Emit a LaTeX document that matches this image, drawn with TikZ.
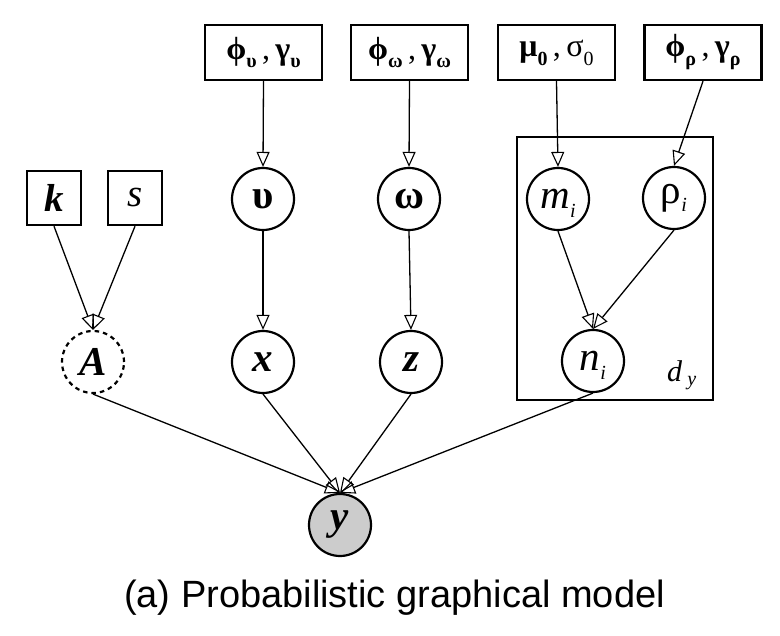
\documentclass[tikz,border=0pt]{standalone}
\usepackage{fontspec}
\setmainfont{Liberation Serif}
\newfontfamily\capfont{Liberation Sans}
\usetikzlibrary{arrows.meta}
\newcommand\mysub[1]{\raisebox{-0.28em}{\fontsize{20}{20}\selectfont #1}}
\newcommand\mysubb[1]{\smash{\raisebox{-8.5pt}{\fontsize{20}{20}\selectfont #1}}}
\begin{document}
\begin{tikzpicture}[x=1pt,y=-1pt,
  var/.style={circle, draw, line width=2.2pt, minimum size=62pt, inner sep=0pt,
    font=\fontsize{41}{41}\selectfont},
  topbox/.style={rectangle, draw, line width=2.4pt, minimum width=117pt, minimum height=55pt,
    inner sep=0pt, font=\fontsize{32}{32}\selectfont},
  smallbox/.style={rectangle, draw, line width=2.4pt, minimum width=54pt, minimum height=54pt,
    inner sep=0pt, font=\fontsize{39}{39}\selectfont},
  conn/.style={line width=1.3pt, -{Triangle[open, length=15pt, width=13pt, line width=1.1pt]}}]
\useasboundingbox (0,0) rectangle (780,636);
% plate
\node[draw, line width=1.5pt, minimum width=196pt, minimum height=263pt, inner sep=0pt] (plate) at (615,268.5) {};
% top parameter boxes
\node[topbox] (b1) at (263.5,52.5) {\textbf{ϕ}\mysub{\textbf{υ}}\,,\,\textbf{γ}\mysub{\textbf{υ}}};
\node[topbox] (b2) at (409.5,52.5) {\textbf{ϕ}\mysub{\textbf{ω}}\,,\,\textbf{γ}\mysub{\textbf{ω}}};
\node[topbox] (b3) at (556.5,52.5) {\textbf{μ}\mysub{\textbf{0}}\,,\,σ\mysub{0}};
\node[topbox] (b4) at (703,52.5) {\textbf{ϕ}\mysub{\textbf{ρ}}\,,\,\textbf{γ}\mysub{\textbf{ρ}}};
% k, s
\node[smallbox] (k) at (54,198) {\textbf{\textit{k}}};
\node[smallbox] (s) at (135,198) {\textit{s}};
% latent variables
\node[var] (u) at (263,199) {\textbf{υ}};
\node[var] (w) at (409,199) {\textbf{ω}};
\node[var] (m) at (558,199) {\textit{m}\mysubb{\textit{i}}};
\node[var] (rho) at (674,198) {ρ\mysubb{\textit{i}}};
\node[var, dashed, dash pattern=on 4.5pt off 4pt] (A) at (93,362) {\textbf{\textit{A}}};
\node[var] (x) at (263,362) {\textbf{\textit{x}}};
\node[var] (z) at (411,362) {\textbf{\textit{z}}};
\node[var] (n) at (593,361) {\textit{n}\mysubb{\textit{i}}};
\node[var, fill={rgb,255:red,204;green,204;blue,204}, minimum size=62pt] (y) at (340,525) {\textbf{\textit{y}}};
% plate label
\node[font=\fontsize{30}{30}\selectfont, inner sep=0pt, anchor=base west] (dy) at (667,382) {\textit{d}\,\raisebox{-4pt}{\fontsize{20}{20}\selectfont\textit{y}}};
% connectors
\draw[conn] (b1.south) -- (u.north);
\draw[conn] (b2.south) -- (w.north);
\draw[conn] (b3.south) -- (m.north);
\draw[conn] (b4.south) -- (rho.north);
\draw[conn] (k.south) -- (A.north);
\draw[conn] (s.south) -- (A.north);
\draw[conn] (u) -- (x);
\draw[conn] (w.south) -- (z.north);
\draw[conn] (m.south) -- (n.north);
\draw[conn] (rho.south) -- (n.north);
\draw[conn] (A.south) -- (y.north);
\draw[conn] (x.south) -- (y.north);
\draw[conn] (z.south) -- (y.north);
\draw[conn] (n.south) -- (y.north);
% caption
\node[anchor=base, inner sep=0pt, font=\capfont\fontsize{38}{38}\selectfont] (cap) at (394.5,607) {(a) Probabilistic graphical model};
\end{tikzpicture}
\end{document}
